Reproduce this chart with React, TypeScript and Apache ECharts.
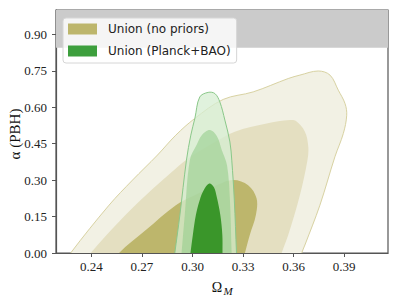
import React, { useEffect, useRef } from "react";
import * as echarts from "echarts";

// Axis ticks
const xTicks = [0.24, 0.27, 0.3, 0.33, 0.36, 0.39];
const yTicks = [0, 0.15, 0.3, 0.45, 0.6, 0.75, 0.9];
const xRange = [0.219, 0.416];
const yRange = [0, 1.0];
const excludedBandLow = 0.845;

const seriesNames = ["Union (no priors)", "Union (Planck+BAO)"];

// Union (no priors) contours [Omega_M, alpha]
const olive3: number[][] = [
  [0.2257, -0.03], [0.2277, 0], [0.2505, 0.197], [0.2644, 0.3], [0.2792, 0.403], [0.2901, 0.485],
  [0.3014, 0.554], [0.3182, 0.632], [0.336, 0.663], [0.3568, 0.718], [0.3637, 0.732],
  [0.3746, 0.749], [0.3816, 0.732], [0.3865, 0.67], [0.3905, 0.615], [0.3915, 0.567],
  [0.3895, 0.492], [0.3845, 0.396], [0.3756, 0.197], [0.3667, 0.033], [0.3648, 0], [0.3638, -0.03],
];
const olive2: number[][] = [
  [0.2376, -0.03], [0.2396, 0], [0.2564, 0.129], [0.2723, 0.238], [0.2901, 0.348], [0.296, 0.382],
  [0.3103, 0.444], [0.3251, 0.499], [0.344, 0.533], [0.3578, 0.547], [0.3614, 0.543],
  [0.3667, 0.499], [0.3687, 0.437], [0.3682, 0.382], [0.3637, 0.238], [0.3568, 0.074],
  [0.3529, 0], [0.3519, -0.03],
];
const olive1: number[][] = [
  [0.2544, -0.03], [0.2564, 0], [0.2723, 0.0945], [0.2901, 0.197], [0.3014, 0.238], [0.3133, 0.275],
  [0.3239, 0.3], [0.333, 0.279], [0.338, 0.225], [0.3376, 0.156], [0.334, 0.074],
  [0.3311, 0], [0.3301, -0.03],
];

// Union (Planck+BAO) contours [Omega_M, alpha]
const green3: number[][] = [
  [0.2889, -0.03], [0.2895, 0], [0.2925, 0.156], [0.2964, 0.382], [0.299, 0.485], [0.3014, 0.554],
  [0.3043, 0.642], [0.3093, 0.661], [0.3133, 0.656], [0.3162, 0.622], [0.3192, 0.547],
  [0.3222, 0.457], [0.3233, 0.382], [0.3248, 0.218], [0.3261, 0], [0.3263, -0.03],
];
const green2: number[][] = [
  [0.293, -0.03], [0.2935, 0], [0.2954, 0.156], [0.2984, 0.382], [0.3024, 0.444], [0.3055, 0.485],
  [0.3103, 0.506], [0.3144, 0.481], [0.3174, 0.423], [0.3205, 0.36], [0.3222, 0.218],
  [0.3232, 0], [0.3234, -0.03],
];
const green1: number[][] = [
  [0.2984, -0.03], [0.2988, 0], [0.3002, 0.074], [0.302, 0.156], [0.3043, 0.218], [0.3067, 0.259],
  [0.3099, 0.286], [0.3127, 0.271], [0.3144, 0.23], [0.3165, 0.156], [0.3177, 0.074],
  [0.3178, 0], [0.3179, -0.03],
];

const oliveContours = [olive3, olive2, olive1];
const greenContours = [green3, green2, green1];

const oliveStyles = [
  { fill: "#f2f1e4", stroke: "#d8d2a2", lineWidth: 1 },
  { fill: "#e4dfc1", stroke: "none", lineWidth: 0 },
  { fill: "#bdb66c", stroke: "none", lineWidth: 0 },
];
const greenStyles = [
  { fill: "rgba(214,238,210,0.75)", stroke: "#8ac889", lineWidth: 1 },
  { fill: "rgba(150,205,140,0.6)", stroke: "none", lineWidth: 0 },
  { fill: "#3a962a", stroke: "none", lineWidth: 0 },
];

function contourSeries(name: string, color: string, contours: number[][][], styles: any[]) {
  return {
    type: "custom",
    name,
    coordinateSystem: "cartesian2d",
    clip: true,
    itemStyle: { color },
    data: contours.map((c) => c[Math.floor(c.length / 2)]),
    renderItem: (params: any, api: any) => {
      const pts = contours[params.dataIndex].map((p) => api.coord(p));
      const st = styles[params.dataIndex];
      return {
        type: "polygon",
        shape: { points: pts, smooth: 0.35 },
        style: { fill: st.fill, stroke: st.stroke, lineWidth: st.lineWidth },
      };
    },
  };
}

export default function App() {
  const ref = useRef<HTMLDivElement>(null);
  useEffect(() => {
    if (!ref.current) return;
    const chart = echarts.init(ref.current, undefined, { renderer: "svg" });
    const serif = "Liberation Serif";
    const axisLabelBase = {
      fontFamily: serif, fontSize: 13, color: "#222",
      formatter: (v: number) => v.toFixed(2),
    };
    chart.setOption({
      animation: false,
      textStyle: { fontFamily: serif },
      grid: {
        left: 56, right: 11, top: 10, bottom: 52,
        show: true, borderColor: "#555", borderWidth: 1.2, backgroundColor: "transparent",
      },
      legend: {
        orient: "vertical",
        left: 63, top: 18,
        itemWidth: 29, itemHeight: 11, itemGap: 10,
        icon: "rect",
        padding: [5, 6, 6, 5],
        backgroundColor: "rgba(255,255,255,0.8)",
        borderColor: "#d6d6d6", borderWidth: 1, borderRadius: 3,
        textStyle: { fontFamily: "DejaVu Sans", fontSize: 12, color: "#222", padding: [0, 0, 0, 6] },
        data: seriesNames,
      },
      xAxis: {
        type: "value", min: xRange[0], max: xRange[1],
        axisLine: { show: true, lineStyle: { color: "#555", width: 1.2 } },
        axisTick: { show: true, customValues: xTicks, length: 4, lineStyle: { color: "#555" } },
        axisLabel: { ...axisLabelBase, customValues: xTicks, margin: 7 },
        splitLine: { show: false },
      },
      yAxis: {
        type: "value", min: yRange[0], max: yRange[1],
        axisLine: { show: true, lineStyle: { color: "#555", width: 1.2 } },
        axisTick: { show: true, customValues: yTicks, length: 4, lineStyle: { color: "#555" } },
        axisLabel: { ...axisLabelBase, customValues: yTicks, margin: 9 },
        splitLine: { show: false },
      },
      graphic: [
        {
          type: "text", x: 15, y: 134, rotation: Math.PI / 2,
          style: { text: "α (PBH)", font: '15px "Liberation Serif"', fill: "#111", textAlign: "center", textVerticalAlign: "middle" },
        },
        {
          type: "text", x: 217, y: 287,
          style: { text: "Ω", font: '14px "Liberation Serif"', fill: "#111", textAlign: "center", textVerticalAlign: "middle" },
        },
        {
          type: "text", x: 228, y: 291,
          style: { text: "M", font: 'italic 11px "Liberation Serif"', fill: "#111", textAlign: "center", textVerticalAlign: "middle" },
        },
      ],
      series: [
        {
          type: "custom",
          coordinateSystem: "cartesian2d",
          silent: true,
          data: [[xRange[0], excludedBandLow]],
          renderItem: (_p: any, api: any) => {
            const a = api.coord([xRange[0], yRange[1]]);
            const b = api.coord([xRange[1], excludedBandLow]);
            return {
              type: "rect",
              shape: { x: a[0], y: a[1], width: b[0] - a[0], height: b[1] - a[1] },
              style: { fill: "#cbcbcb" },
            };
          },
        },
        contourSeries(seriesNames[0], "#bdb66c", oliveContours, oliveStyles),
        contourSeries(seriesNames[1], "#3d9f3d", greenContours, greenStyles),
      ],
    });
    return () => chart.dispose();
  }, []);
  return <div ref={ref} style={{ width: 399, height: 305, position: "absolute", left: 0, top: 0 }} />;
}
